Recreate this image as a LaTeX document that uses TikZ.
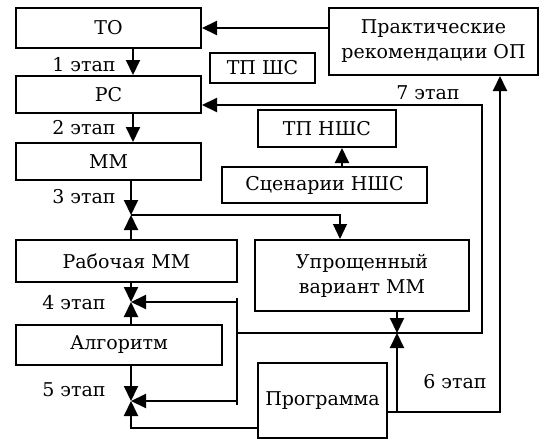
\documentclass[tikz,border=0pt]{standalone}
\usepackage{fontspec}
\setmainfont{DejaVu Serif}
\usetikzlibrary{arrows.meta}
\begin{document}
\begin{tikzpicture}[x=1pt,y=-1pt,
  box/.style={draw,line width=2pt,inner sep=0pt,align=center,font=\fontsize{19}{25}\selectfont},
  lbl/.style={inner sep=0pt,font=\fontsize{19}{25}\selectfont},
  con/.style={line width=2pt,-{Triangle[length=15pt,width=14pt]}},
  ln/.style={line width=2pt}]
\useasboundingbox (0,0) rectangle (539,439);
% boxes
\node[box,minimum width=185pt,minimum height=40pt] (to) at (108.5,28) {ТО};
\node[box,minimum width=185pt,minimum height=37pt] (pc) at (108.5,94.5) {РС};
\node[box,minimum width=185pt,minimum height=37pt] (mm) at (108.5,161.5) {ММ};
\node[box,minimum width=105pt,minimum height=30pt] (tpsh) at (262.5,68) {ТП ШС};
\node[box,minimum width=209pt,minimum height=67pt] (pr) at (433.5,41.5) {Практические\\рекомендации ОП};
\node[box,minimum width=138pt,minimum height=37pt] (tpn) at (327,128.5) {ТП НШС};
\node[box,minimum width=205pt,minimum height=36pt] (sc) at (324.5,185) {Сценарии НШС};
\node[box,minimum width=221pt,minimum height=42pt] (rm) at (126.5,261) {Рабочая ММ};
\node[box,minimum width=214pt,minimum height=71pt] (upr) at (362,275.5) {Упрощенный\\вариант ММ};
\node[box,minimum width=206pt,minimum height=40pt] (al) at (119,345) {Алгоритм};
\node[box,minimum width=129pt,minimum height=75pt] (pg) at (322.5,400.5) {\raisebox{-5pt}{Программа}};
% labels
\node[lbl] (l1) at (84,65) {1 этап};
\node[lbl] (l2) at (84,128) {2 этап};
\node[lbl] (l3) at (84,197) {3 этап};
\node[lbl] (l4) at (74,303) {4 этап};
\node[lbl] (l5) at (74,390) {5 этап};
\node[lbl] (l7) at (428,93) {7 этап};
\node[lbl] (l6) at (455,382) {6 этап};
% coordinates
\coordinate (a1) at (133,0);
\coordinate (j3) at (131,215);
\coordinate (j4) at (131,302);
\coordinate (j5) at (131,401);
\coordinate (u3) at (340,215);
\coordinate (ax) at (342,0);
\coordinate (bt) at (237,298);
\coordinate (bb) at (237,405);
\coordinate (bus) at (237,333);
\coordinate (r7) at (482,333);
\coordinate (c7) at (482,105);
\coordinate (ju) at (397,333);
\coordinate (r6) at (500,412);
\coordinate (pb) at (258,428);
% connectors
\draw[con] (to.east -| pr.west) -- (to.east);
\draw[con] (to.south -| a1) -- (pc.north -| a1);
\draw[con] (pc.south -| a1) -- (mm.north -| a1);
\draw[con] (mm.south -| j3) -- (j3);
\draw[con] (rm.north -| j3) -- (j3);
\draw[con,line width=1.2pt] (j3) -- (u3) -- (u3 |- upr.north);
\draw[con] (sc.north -| ax) -- (tpn.south -| ax);
\draw[con] (rm.south -| j4) -- (j4);
\draw[con] (al.north -| j4) -- (j4);
\draw[con] (al.south -| j5) -- (j5);
\draw[ln] (bt) -- (bb);
\draw[con] (bt |- j4) -- (j4);
\draw[con] (bt |- j5) -- (j5);
\draw[con] (bus) -- (r7) -- (c7) -- (c7 -| pc.east);
\draw[con] (upr.south -| ju) -- (ju);
\draw[con] (r6 -| ju) -- (ju);
\draw[con] (r6 -| pg.east) -- (r6) -- (r6 |- pr.south);
\draw[con] (pb) -- (pb -| j5) -- (j5);
\end{tikzpicture}
\end{document}
